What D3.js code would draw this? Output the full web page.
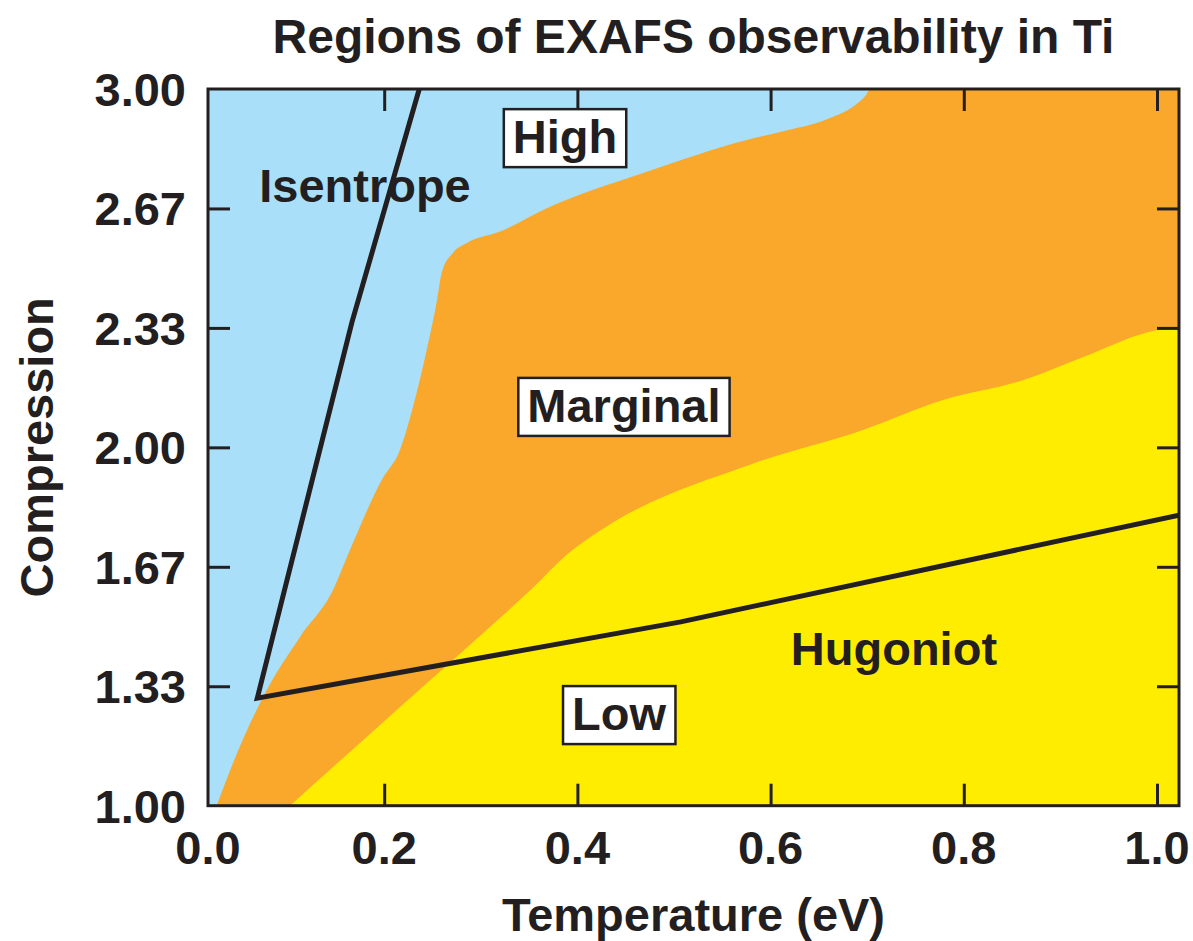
<!DOCTYPE html>
<html>
<head>
<meta charset="utf-8">
<script src="https://cdn.jsdelivr.net/npm/d3@7"></script>
<style>
  html, body { margin: 0; padding: 0; background: #ffffff; }
  svg { display: block; }
  text { font-family: "Liberation Sans", Arial, Helvetica, sans-serif; font-weight: bold; fill: #231f20; }
</style>
</head>
<body>
<div id="chart"></div>
<script>
// ---------------- DATA ----------------
const chartTitle = "Regions of EXAFS observability in Ti";
const xTitle = "Temperature (eV)";
const yTitle = "Compression";

const xDomain = [0.0176, 1.0228];
const yDomain = [1.0, 3.0];

const xTickValues = [0.2, 0.4, 0.6, 0.8, 1.0];
const xTickLabelValues = [0.0176, 0.2, 0.4, 0.6, 0.8, 1.0];
const xTickLabels = ["0.0", "0.2", "0.4", "0.6", "0.8", "1.0"];
const yTickValues = [1.0, 4 / 3, 5 / 3, 2.0, 7 / 3, 8 / 3, 3.0];
const yTickLabels = ["1.00", "1.33", "1.67", "2.00", "2.33", "2.67", "3.00"];

// boundary between "High" (blue) and "Marginal" (orange)
const highBoundaryT = [0.0266, 0.0435, 0.0784, 0.1128, 0.147, 0.1646, 0.1974, 0.2164, 0.2298, 0.244, 0.2547, 0.2595, 0.2712, 0.2854, 0.3199, 0.3682, 0.4717, 0.5753, 0.6097, 0.6615, 0.6874, 0.6988, 0.7029, 1.03];
const highBoundaryC = [1.00, 1.119, 1.323, 1.471, 1.602, 1.714, 1.909, 1.993, 2.113, 2.272, 2.411, 2.487, 2.543, 2.570, 2.602, 2.667, 2.769, 2.858, 2.880, 2.919, 2.955, 2.983, 3.0, 3.0];

// boundary between "Marginal" (orange) and "Low" (yellow)
const lowBoundaryT = [0.1025, 0.1819, 0.2505, 0.3199, 0.354, 0.389, 0.4234, 0.5823, 0.695, 0.7785, 0.862, 0.9244, 0.9998, 1.03];
const lowBoundaryC = [1.00, 1.192, 1.357, 1.524, 1.608, 1.700, 1.767, 1.955, 2.048, 2.132, 2.188, 2.253, 2.327, 2.335];

// isentrope and Hugoniot curves
const isentropeT = [0.2363, 0.1667, 0.0686];
const isentropeC = [3.00, 2.35, 1.30];
const hugoniotT = [0.0686, 0.507, 1.0228];
const hugoniotC = [1.30, 1.513, 1.811];

// region / curve annotations (anchor in data units)
const annotationTexts = ["High", "Marginal", "Low", "Isentrope", "Hugoniot"];
const annotationT = [0.3872, 0.4482, 0.4431, 0.1801, 0.7277];
const annotationC = [2.821, 2.071, 1.211, 2.685, 1.393];
const annotationBoxed = [true, true, true, false, false];

const colors = { high: "#a9dff8", marginal: "#f9a82c", low: "#ffed00", ink: "#231f20" };

// ---------------- CHART ----------------
const W = 1193, H = 941;
const plot = { left: 208, right: 1179, top: 89, bottom: 805.7 };

const svg = d3.select("#chart").append("svg").attr("width", W).attr("height", H);

const x = d3.scaleLinear().domain(xDomain).range([plot.left, plot.right]);
const y = d3.scaleLinear().domain(yDomain).range([plot.bottom, plot.top]);

svg.append("clipPath").attr("id", "clip")
  .append("rect")
  .attr("x", plot.left).attr("y", plot.top)
  .attr("width", plot.right - plot.left).attr("height", plot.bottom - plot.top);

const g = svg.append("g").attr("clip-path", "url(#clip)");

// High (background)
g.append("rect")
  .attr("x", plot.left).attr("y", plot.top)
  .attr("width", plot.right - plot.left).attr("height", plot.bottom - plot.top)
  .attr("fill", colors.high);

const area = d3.area()
  .x(d => x(d[0]))
  .y0(y(yDomain[0]))
  .y1(d => y(d[1]))
  .curve(d3.curveMonotoneX);

g.append("path")
  .attr("d", area(d3.zip(highBoundaryT, highBoundaryC)))
  .attr("fill", colors.marginal);

g.append("path")
  .attr("d", area(d3.zip(lowBoundaryT, lowBoundaryC)))
  .attr("fill", colors.low);

// Isentrope + Hugoniot polyline
const curvePts = d3.zip(isentropeT, isentropeC).concat(d3.zip(hugoniotT, hugoniotC).slice(1));
g.append("path")
  .attr("d", d3.line().x(d => x(d[0])).y(d => y(d[1]))(curvePts))
  .attr("fill", "none")
  .attr("stroke", colors.ink)
  .attr("stroke-width", 5)
  .attr("stroke-linejoin", "miter")
  .attr("stroke-miterlimit", 20);

// ticks on all four sides (inward)
const tickLen = 22;
function styleAxis(sel) {
  sel.select(".domain").remove();
  sel.selectAll(".tick line").attr("stroke", colors.ink).attr("stroke-width", 3);
  sel.selectAll(".tick text").remove();
}
svg.append("g").attr("transform", `translate(0,${plot.bottom})`)
  .call(d3.axisBottom(x).tickValues(xTickValues).tickSize(-tickLen)).call(styleAxis);
svg.append("g").attr("transform", `translate(0,${plot.top})`)
  .call(d3.axisTop(x).tickValues(xTickValues).tickSize(-tickLen)).call(styleAxis);
svg.append("g").attr("transform", `translate(${plot.left},0)`)
  .call(d3.axisLeft(y).tickValues(yTickValues.slice(1, -1)).tickSize(-tickLen)).call(styleAxis);
svg.append("g").attr("transform", `translate(${plot.right},0)`)
  .call(d3.axisRight(y).tickValues(yTickValues.slice(1, -1)).tickSize(-tickLen)).call(styleAxis);

// frame
svg.append("rect")
  .attr("x", plot.left).attr("y", plot.top)
  .attr("width", plot.right - plot.left).attr("height", plot.bottom - plot.top)
  .attr("fill", "none").attr("stroke", colors.ink).attr("stroke-width", 3);

// tick labels
const fs = 47;
svg.append("g").selectAll("text").data(xTickLabelValues).join("text")
  .attr("x", d => x(d)).attr("y", 864)
  .attr("text-anchor", "middle").attr("font-size", fs)
  .text((d, i) => xTickLabels[i]);

svg.append("g").selectAll("text").data(yTickValues).join("text")
  .attr("x", plot.left - 22).attr("y", d => y(d)).attr("dy", "0.36em")
  .attr("text-anchor", "end").attr("font-size", fs)
  .text((d, i) => yTickLabels[i]);

// titles
svg.append("text").attr("x", (plot.left + plot.right) / 2).attr("y", 53)
  .attr("text-anchor", "middle").attr("font-size", 48).text(chartTitle);
svg.append("text").attr("x", (plot.left + plot.right) / 2).attr("y", 931)
  .attr("text-anchor", "middle").attr("font-size", fs).text(xTitle);
svg.append("text")
  .attr("transform", `translate(53,${(plot.top + plot.bottom) / 2}) rotate(-90)`)
  .attr("text-anchor", "middle").attr("font-size", fs).text(yTitle);

// annotations
annotationTexts.forEach((t, i) => {
  const ag = svg.append("g");
  const txt = ag.append("text")
    .attr("x", x(annotationT[i])).attr("y", y(annotationC[i]))
    .attr("text-anchor", "middle").attr("font-size", fs).text(t);
  if (annotationBoxed[i]) {
    const bb = txt.node().getBBox();
    ag.insert("rect", "text")
      .attr("x", bb.x - 9).attr("y", bb.y - 1)
      .attr("width", bb.width + 18).attr("height", bb.height + 5)
      .attr("fill", "#ffffff").attr("stroke", colors.ink).attr("stroke-width", 2.5);
  }
});
</script>
</body>
</html>
